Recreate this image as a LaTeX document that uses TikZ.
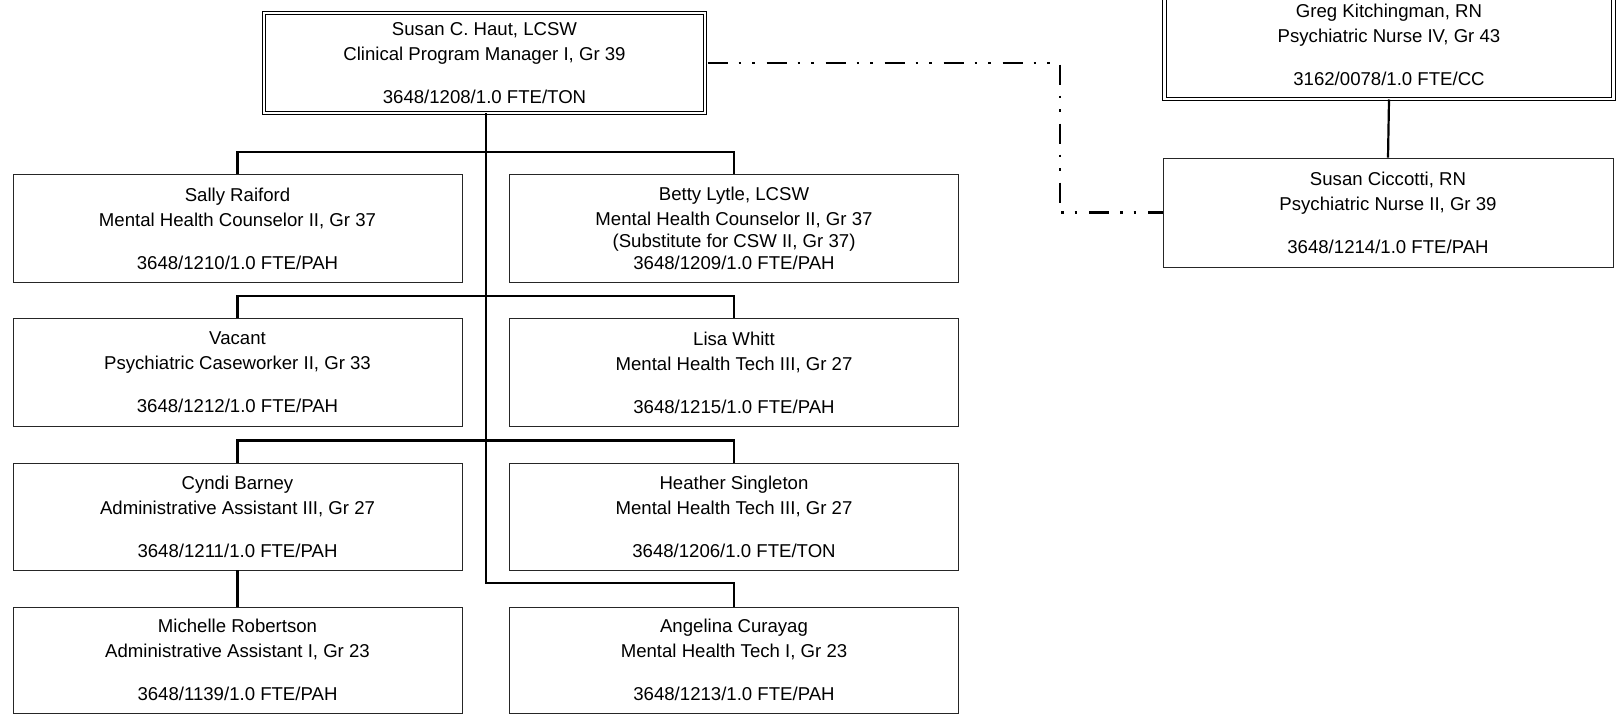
\documentclass[tikz,border=0pt]{standalone}
\usepackage{fontspec}
\setmainfont{Liberation Sans}
\begin{document}
\begin{tikzpicture}[x=1pt,y=-1pt,
  box/.style={draw=black!85, line width=0.9pt, minimum width=449pt, minimum height=108pt,
    inner sep=0pt, align=center, font=\fontsize{18.6}{22}\selectfont},
  dbox/.style={box, draw=black, double=white, double distance=2.2pt, line width=1pt},
  conn/.style={line width=2.2pt, black},
  dd/.style={line width=2.4pt, black, dash pattern=on 20pt off 11pt on 2.5pt off 11pt on 2.5pt off 12pt}]
\useasboundingbox (0,0) rectangle (1616,714);

% top manager
\node[dbox, minimum width=441pt, minimum height=100pt] (susan) at (484.5,63)
  {Susan C. Haut, LCSW\\[3pt]Clinical Program Manager I, Gr 39\\[21pt]3648/1208/1.0 FTE/TON};

% right side
\node[dbox] (greg) at (1389,45)
  {Greg Kitchingman, RN\\[3pt]Psychiatric Nurse IV, Gr 43\\[21pt]3162/0078/1.0 FTE/CC};
\node[box, minimum width=450pt, minimum height=109pt] (ciccotti) at (1388,212.5)
  {Susan Ciccotti, RN\\[3pt]Psychiatric Nurse II, Gr 39\\[21pt]3648/1214/1.0 FTE/PAH};

% row 1
\node[box] (sally) at (237.5,228.5)
  {Sally Raiford\\[3pt]Mental Health Counselor II, Gr 37\\[21pt]3648/1210/1.0 FTE/PAH};
\node[box] (betty) at (734,228.5)
  {Betty Lytle, LCSW\\[3pt]Mental Health Counselor II, Gr 37\\(Substitute for CSW II, Gr 37)\\3648/1209/1.0 FTE/PAH};
% row 2
\node[box] (vacant) at (237.5,372.5)
  {Vacant\\[3pt]Psychiatric Caseworker II, Gr 33\\[21pt]3648/1212/1.0 FTE/PAH};
\node[box] (lisa) at (734,372.5)
  {Lisa Whitt\\[3pt]Mental Health Tech III, Gr 27\\[21pt]3648/1215/1.0 FTE/PAH};
% row 3
\node[box, minimum height=107pt] (cyndi) at (237.5,516.5)
  {Cyndi Barney\\[3pt]Administrative Assistant III, Gr 27\\[21pt]3648/1211/1.0 FTE/PAH};
\node[box, minimum height=107pt] (heather) at (734,516.5)
  {Heather Singleton\\[3pt]Mental Health Tech III, Gr 27\\[21pt]3648/1206/1.0 FTE/TON};
% row 4
\node[box, minimum height=106pt] (michelle) at (237.5,660)
  {Michelle Robertson\\[3pt]Administrative Assistant I, Gr 23\\[21pt]3648/1139/1.0 FTE/PAH};
\node[box, minimum height=106pt] (angelina) at (734,660)
  {Angelina Curayag\\[3pt]Mental Health Tech I, Gr 23\\[21pt]3648/1213/1.0 FTE/PAH};

% connectors
\coordinate (trunkend) at (486,583);
\draw[conn] (susan.south -| trunkend) -- (trunkend) -| (angelina.north);
\draw[conn] (sally.north) -- ++(0,-22) -| (betty.north);
\draw[conn] (vacant.north) -- ++(0,-22) -| (lisa.north);
\draw[conn] (cyndi.north) -- ++(0,-22) -| (heather.north);
\draw[conn] (cyndi.south) -- (michelle.north);
\draw[conn] (greg.south) -- (ciccotti.north);

% dotted line relationship
\coordinate (ddcorner) at (1060,63);
\draw[dd] ([xshift=2.2pt]susan.east) -- (ddcorner) |- (ciccotti.west);
\end{tikzpicture}
\end{document}
